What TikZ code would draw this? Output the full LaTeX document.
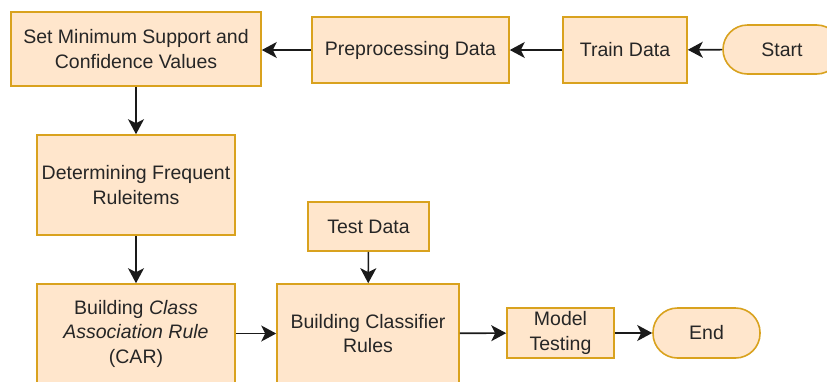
\documentclass[tikz,border=0pt]{standalone}
\usepackage{fontspec}
\setmainfont{Liberation Sans}
\usetikzlibrary{arrows.meta}
\definecolor{boxfill}{HTML}{FFE6CC}
\definecolor{boxline}{HTML}{D9A21E}
\definecolor{flowline}{HTML}{1A1A1A}
\tikzset{
  stepbox/.style={draw=boxline, fill=boxfill, line width=1.6pt, inner sep=0pt,
    align=center, font=\fontsize{19.5}{24.5}\selectfont, text=black!85},
  termbox/.style={stepbox, rounded corners=24.5pt},
  flow/.style={draw=flowline, line width=1.6pt,
    -{Stealth[length=15pt,width=16pt,inset=4pt]}},
}
\begin{document}
\begin{tikzpicture}[x=1pt,y=-1pt]
\clip (0,0) rectangle (827,381);
\fill[white] (0,0) rectangle (827,381);

% top row, read from right to left
\node[termbox, minimum width=118pt, minimum height=49pt] (start) at (782,49.5) {Start};
\node[stepbox, minimum width=124pt, minimum height=66pt] (train) at (625,50) {Train Data};
\node[stepbox, minimum width=197pt, minimum height=66pt] (prep) at (410.5,50) {Preprocessing Data};
\node[stepbox, minimum width=250pt, minimum height=74pt] (minsup) at (136,49)
  {Set Minimum Support and\\Confidence Values};

% left column
\node[stepbox, minimum width=198pt, minimum height=100pt] (freq) at (136,185)
  {Determining Frequent\\Ruleitems};
\node[stepbox, minimum width=198pt, minimum height=99pt] (car) at (136,333.5)
  {Building \textit{Class}\\\textit{Association Rule}\\(CAR)};

% bottom row
\node[stepbox, minimum width=121pt, minimum height=49pt] (test) at (368.5,226.5) {Test Data};
\node[stepbox, minimum width=182pt, minimum height=99pt] (classifier) at (368,333.5)
  {Building Classifier\\Rules};
\node[stepbox, minimum width=107pt, minimum height=50pt] (model) at (560.5,333)
  {Model\\Testing};
\node[termbox, minimum width=107pt, minimum height=50pt] (end) at (706.5,333) {End};

% connectors
\draw[flow] (start) -- (train);
\draw[flow] (train) -- (prep);
\draw[flow] (prep.west) -- (minsup.east |- prep.west);
\draw[flow] (minsup) -- (freq);
\draw[flow] (freq) -- (car);
\draw[flow] (car) -- (classifier);
\draw[flow] (test) -- (classifier);
\draw[flow] (classifier) -- (model);
\draw[flow] (model) -- (end);
\end{tikzpicture}
\end{document}
